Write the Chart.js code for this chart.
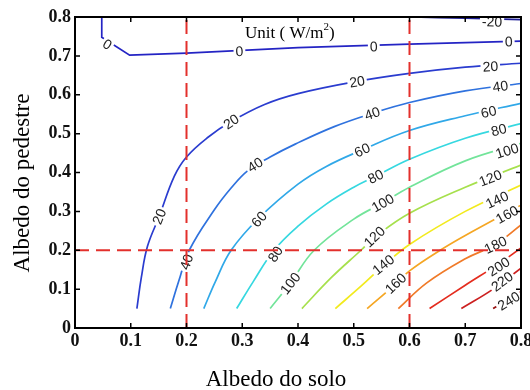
<!DOCTYPE html>
<html>
<head>
<meta charset="utf-8">
<script src="https://cdn.jsdelivr.net/npm/chart.js@4.4.1/dist/chart.umd.min.js"></script>
<style>
  html, body { margin: 0; padding: 0; background: #fff; }
</style>
</head>
<body>
<canvas id="chart" width="530" height="390"></canvas>
<script>
// contour levels in W/m2, each traced as [albedo do solo, albedo do pedestre]
const levels = [-20, 0, 20, 40, 60, 80, 100, 120, 140, 160, 180, 200, 220, 240];
const levelColors = ['#1c1c96', '#2424c4', '#2a3ccf', '#2f72de', '#30a8e8', '#36d8e0', '#72e49a',
  '#a6e04c', '#f2ea1e', '#f5a623', '#f07a28', '#e42c1e', '#cc2020', '#981010'];

const contourM20 = [[0.605, 0.8], [0.7, 0.797], [0.8, 0.793]];
const contour0 = [[0.048, 0.8], [0.048, 0.748], [0.098, 0.702], [0.2, 0.707], [0.4, 0.721], [0.6, 0.73], [0.8, 0.738]];
const contour20 = [[0.111, 0.05], [0.119, 0.13], [0.13, 0.21], [0.151, 0.287], [0.178, 0.39], [0.2, 0.44],
  [0.238, 0.49], [0.28, 0.531], [0.34, 0.575], [0.4, 0.603], [0.5, 0.633], [0.6, 0.655], [0.7, 0.671], [0.8, 0.681]];
const contour40 = [[0.171, 0.05], [0.186, 0.12], [0.205, 0.2], [0.25, 0.304], [0.28, 0.36], [0.31, 0.405],
  [0.35, 0.44], [0.395, 0.473], [0.465, 0.518], [0.533, 0.552], [0.6, 0.58], [0.7, 0.61], [0.8, 0.629]];
const contour60 = [[0.231, 0.05], [0.252, 0.12], [0.28, 0.2], [0.33, 0.283], [0.4, 0.37], [0.45, 0.415],
  [0.515, 0.458], [0.6, 0.508], [0.7, 0.546], [0.8, 0.578]];
const contour80 = [[0.29, 0.05], [0.32, 0.12], [0.357, 0.2], [0.4, 0.262], [0.45, 0.318], [0.5, 0.362],
  [0.539, 0.39], [0.6, 0.434], [0.7, 0.488], [0.8, 0.526]];
const contour100 = [[0.35, 0.05], [0.386, 0.115], [0.429, 0.2], [0.5, 0.28], [0.552, 0.322], [0.6, 0.362],
  [0.7, 0.43], [0.8, 0.475]];
const contour120 = [[0.407, 0.05], [0.46, 0.13], [0.513, 0.2], [0.539, 0.235], [0.6, 0.295], [0.7, 0.362], [0.8, 0.419]];
const contour140 = [[0.467, 0.05], [0.515, 0.11], [0.553, 0.16], [0.6, 0.215], [0.7, 0.3], [0.8, 0.368]];
const contour160 = [[0.524, 0.05], [0.575, 0.113], [0.6, 0.147], [0.655, 0.2], [0.7, 0.238], [0.8, 0.316]];
const contour180 = [[0.58, 0.05], [0.631, 0.116], [0.7, 0.178], [0.754, 0.215], [0.8, 0.265]];
const contour200 = [[0.636, 0.05], [0.7, 0.11], [0.76, 0.165], [0.8, 0.206]];
const contour220 = [[0.693, 0.05], [0.75, 0.1], [0.8, 0.154]];
const contour240 = [[0.75, 0.05], [0.8, 0.093]];

const contours = [contourM20, contour0, contour20, contour40, contour60, contour80, contour100,
  contour120, contour140, contour160, contour180, contour200, contour220, contour240];

// inline labels: [level, x, y]
const labelSpots = [
  [-20, 0.748, 0.788],
  [0, 0.058, 0.73], [0, 0.295, 0.712], [0, 0.536, 0.724], [0, 0.778, 0.737],
  [20, 0.151, 0.287], [20, 0.28, 0.531], [20, 0.506, 0.634], [20, 0.745, 0.673],
  [40, 0.2, 0.17], [40, 0.323, 0.42], [40, 0.533, 0.552], [40, 0.763, 0.622],
  [60, 0.33, 0.28], [60, 0.515, 0.458], [60, 0.742, 0.556],
  [80, 0.359, 0.19], [80, 0.539, 0.39], [80, 0.76, 0.51],
  [100, 0.386, 0.115], [100, 0.552, 0.322], [100, 0.775, 0.456],
  [120, 0.537, 0.235], [120, 0.745, 0.386],
  [140, 0.553, 0.163], [140, 0.757, 0.33],
  [160, 0.575, 0.115], [160, 0.775, 0.292],
  [180, 0.754, 0.214], [200, 0.76, 0.158], [220, 0.766, 0.12], [240, 0.778, 0.07]
];

// red dashed reference lines
const guideX = [0.2, 0.6];
const guideY = [0.2];

const axisTicks = [0, 0.1, 0.2, 0.3, 0.4, 0.5, 0.6, 0.7, 0.8];
const tickLabels = ['0', '0.1', '0.2', '0.3', '0.4', '0.5', '0.6', '0.7', '0.8'];
const xTitle = 'Albedo do solo';
const yTitle = 'Albedo do pedestre';

const toPoints = (path) => path.map(([x, y]) => ({ x, y }));

const datasets = [];
guideX.forEach((g) => datasets.push({
  data: [{ x: g, y: 0 }, { x: g, y: 0.8 }], isGuide: true, order: 0,
  borderColor: '#e3302c', borderWidth: 2, borderDash: [14, 7], pointRadius: 0
}));
guideY.forEach((g) => datasets.push({
  data: [{ x: 0, y: g }, { x: 0.8, y: g }], isGuide: true, order: 0,
  borderColor: '#e3302c', borderWidth: 2, borderDash: [14, 7], pointRadius: 0
}));
contours.forEach((path, i) => datasets.push({
  data: toPoints(path), order: 1,
  borderColor: levelColors[i], borderWidth: 1.7, pointRadius: 0,
  tension: path === contour0 ? 0 : 0.4
}));

function segDist(px, py, ax, ay, bx, by) {
  const dx = bx - ax, dy = by - ay;
  let t = ((px - ax) * dx + (py - ay) * dy) / (dx * dx + dy * dy || 1);
  t = Math.max(0, Math.min(1, t));
  return Math.hypot(px - ax - t * dx, py - ay - t * dy);
}

function drawLabels(chart) {
  const { ctx, scales: { x, y } } = chart;
  ctx.save();
  ctx.font = '14px "Liberation Sans", Arial, sans-serif';
  ctx.textAlign = 'center';
  ctx.textBaseline = 'middle';
  labelSpots.forEach(([lvl, lx, ly]) => {
    const path = contours[levels.indexOf(lvl)];
    const px = x.getPixelForValue(lx), py = y.getPixelForValue(ly);
    let dir = [1, 0], best = Infinity;
    for (let i = 0; i < path.length - 1; i++) {
      const ax = x.getPixelForValue(path[i][0]), ay = y.getPixelForValue(path[i][1]);
      const bx = x.getPixelForValue(path[i + 1][0]), by = y.getPixelForValue(path[i + 1][1]);
      const d = segDist(px, py, ax, ay, bx, by);
      if (d < best) { best = d; dir = [bx - ax, by - ay]; }
    }
    let ang = Math.atan2(dir[1], dir[0]);
    if (ang > Math.PI / 2) ang -= Math.PI;
    if (ang < -Math.PI / 2) ang += Math.PI;
    const txt = String(lvl);
    const w = ctx.measureText(txt).width;
    ctx.save();
    ctx.translate(px, py);
    ctx.rotate(ang);
    ctx.fillStyle = '#fff';
    ctx.fillRect(-w / 2 - 2, -6, w + 4, 12);
    ctx.fillStyle = '#222';
    ctx.fillText(txt, 0, 1);
    ctx.restore();
  });
  ctx.restore();
}

const contourDecor = {
  id: 'contourDecor',
  beforeDatasetsDraw(chart) { chart.$labelsDone = false; },
  beforeDatasetDraw(chart, args) {
    if (chart.$labelsDone || !chart.data.datasets[args.index].isGuide) return;
    chart.$labelsDone = true;
    drawLabels(chart);
  },
  afterDatasetsDraw(chart) {
    const { ctx, chartArea: { left, right, top, bottom }, scales: { x, y } } = chart;
    ctx.save();
    // frame with inward ticks
    ctx.strokeStyle = '#000';
    ctx.lineWidth = 2;
    ctx.strokeRect(left, top, right - left, bottom - top);
    ctx.lineWidth = 1.5;
    ctx.beginPath();
    axisTicks.forEach((v) => {
      const px = x.getPixelForValue(v), py = y.getPixelForValue(v);
      ctx.moveTo(px, bottom); ctx.lineTo(px, bottom - 5);
      ctx.moveTo(px, top); ctx.lineTo(px, top + 5);
      ctx.moveTo(left, py); ctx.lineTo(left + 5, py);
      ctx.moveTo(right, py); ctx.lineTo(right - 5, py);
    });
    ctx.stroke();

    // unit note
    ctx.fillStyle = '#000';
    ctx.textBaseline = 'alphabetic';
    ctx.textAlign = 'left';
    ctx.font = '17px "Liberation Serif", "Times New Roman", serif';
    let ux = x.getPixelForValue(0.305), uy = y.getPixelForValue(0.745);
    ctx.fillText('Unit ( W/m', ux, uy);
    ux += ctx.measureText('Unit ( W/m').width;
    ctx.font = '11px "Liberation Serif", "Times New Roman", serif';
    ctx.fillText('2', ux, uy - 8);
    ux += ctx.measureText('2').width;
    ctx.font = '17px "Liberation Serif", "Times New Roman", serif';
    ctx.fillText(')', ux, uy);

    // axis titles
    ctx.font = '23px "Liberation Serif", "Times New Roman", serif';
    ctx.textAlign = 'center';
    ctx.fillText(xTitle, 276, 386);
    ctx.translate(29, 183);
    ctx.rotate(-Math.PI / 2);
    ctx.fillText(yTitle, 0, 0);
    ctx.restore();
  }
};

const tickFont = { family: '"Liberation Serif", "Times New Roman", serif', size: 18, weight: 'bold' };

new Chart(document.getElementById('chart'), {
  type: 'line',
  data: { datasets },
  options: {
    responsive: false,
    devicePixelRatio: 1,
    animation: false,
    layout: { padding: { top: 17, right: 9, bottom: 0, left: 0 } },
    plugins: { legend: { display: false }, tooltip: { enabled: false } },
    scales: {
      x: {
        type: 'linear', min: 0, max: 0.8,
        grid: { display: false, drawTicks: false },
        border: { display: false },
        afterBuildTicks: (s) => { s.ticks = axisTicks.map((v) => ({ value: v })); },
        afterFit: (s) => { s.height = 62; s.paddingLeft = 0; s.paddingRight = 0; },
        ticks: { color: '#111', font: tickFont, padding: 3, maxRotation: 0,
          callback: (v, i) => tickLabels[i] }
      },
      y: {
        type: 'linear', min: 0, max: 0.8,
        grid: { display: false, drawTicks: false },
        border: { display: false },
        afterBuildTicks: (s) => { s.ticks = axisTicks.map((v) => ({ value: v })); },
        afterFit: (s) => { s.width = 75; s.paddingTop = 0; s.paddingBottom = 0; },
        ticks: { color: '#111', font: tickFont, padding: 4,
          callback: (v, i) => tickLabels[i] }
      }
    }
  },
  plugins: [contourDecor]
});
</script>
</body>
</html>
